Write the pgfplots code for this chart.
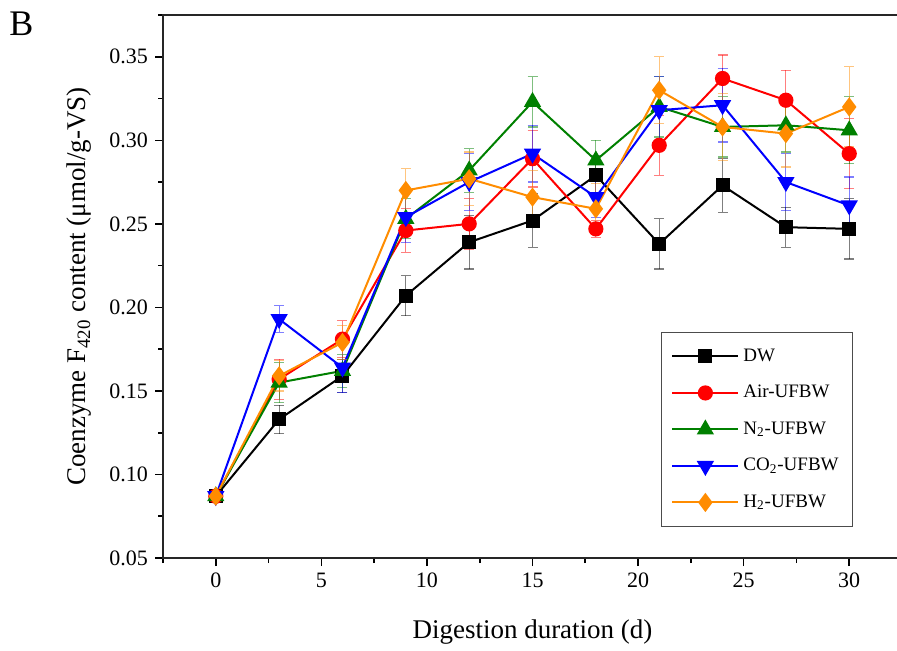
\documentclass[border=0pt]{standalone}
\usepackage{pgfplots}
\pgfplotsset{compat=1.18}
\usepackage{pgfplotstable}
\usepackage{fontspec}
\setmainfont{Liberation Serif}
\definecolor{cdw}{RGB}{0,0,0}
\definecolor{cair}{RGB}{255,0,0}
\definecolor{cn}{RGB}{0,128,0}
\definecolor{cco}{RGB}{0,0,255}
\definecolor{ch}{RGB}{255,140,0}

\pgfplotstableread{
x y e
0 0.087 0.003
3 0.133 0.0085
6 0.159 0.010
9 0.207 0.012
12 0.239 0.016
15 0.252 0.016
18 0.279 0.012
21 0.238 0.015
24 0.273 0.016
27 0.248 0.012
30 0.247 0.018
}\tdw
\pgfplotstableread{
x y e
0 0.087 0.003
3 0.157 0.012
6 0.181 0.011
9 0.246 0.013
12 0.250 0.015
15 0.289 0.017
18 0.247 0.005
21 0.297 0.018
24 0.337 0.014
27 0.324 0.018
30 0.292 0.021
}\tair
\pgfplotstableread{
x y e
0 0.087 0.003
3 0.155 0.012
6 0.162 0.010
9 0.253 0.012
12 0.282 0.013
15 0.323 0.015
18 0.288 0.012
21 0.320 0.018
24 0.308 0.018
27 0.309 0.016
30 0.306 0.020
}\tn
\pgfplotstableread{
x y e
0 0.087 0.003
3 0.193 0.008
6 0.164 0.015
9 0.254 0.015
12 0.275 0.017
15 0.292 0.017
18 0.266 0.012
21 0.318 0.020
24 0.321 0.022
27 0.275 0.017
30 0.261 0.017
}\tco
\pgfplotstableread{
x y e
0 0.087 0.003
3 0.159 0.009
6 0.179 0.010
9 0.270 0.013
12 0.277 0.016
15 0.266 0.016
18 0.259 0.015
21 0.330 0.020
24 0.308 0.020
27 0.304 0.020
30 0.320 0.024
}\th

\begin{document}
\begin{tikzpicture}
\begin{axis}[
  at={(81.5pt,46pt)}, anchor=south west,
  scale only axis, width=369.5pt, height=271.5pt,
  xmin=-2.5, xmax=32.5, ymin=0.05, ymax=0.375,
  xtick={0,5,...,30},
  minor xtick={-2.5,2.5,7.5,12.5,17.5,22.5,27.5},
  ytick={0.05,0.10,...,0.36},
  minor ytick={0.075,0.125,...,0.376},
  tick align=outside, xtick pos=bottom, ytick pos=left,
  major tick length=4pt, minor tick length=2.5pt,
  tick style={line width=0.8pt, black},
  axis line style={line width=1pt, black!85},
  /pgf/number format/assume math mode=true,
  yticklabel style={/pgf/number format/fixed, /pgf/number format/fixed zerofill, /pgf/number format/precision=2},
  ticklabel style={font=\fontsize{11}{13}\selectfont},
  scaled y ticks=false,
  xlabel={Digestion duration (d)},
  ylabel={Coenzyme F\textsubscript{420} content (μmol/g-VS)},
  label style={font=\fontsize{13.5}{15}\selectfont},
  xlabel style={yshift=-9pt},
  ylabel style={yshift=2pt},
  every axis plot/.append style={line width=1pt},
  error bars/y dir=both, error bars/y explicit,
  error bars/error bar style={line width=0.6pt, opacity=0.5},
  error bars/error mark options={rotate=90, mark size=2.5pt, line width=0.6pt, opacity=0.5},
  legend cell align=left,
  legend style={at={(0.934,0.416)}, anchor=north east, draw=black!70, line width=0.6pt,
    font=\fontsize{9.5}{11}\selectfont, row sep=6.5pt, inner xsep=5pt, inner ysep=6pt},
  legend image code/.code={\draw[mark repeat=2,mark phase=2] plot coordinates {(0pt,0pt) (16.5pt,0pt) (33pt,0pt)};},
]
\addplot[cdw, mark=square*, mark size=3pt, mark options={solid}] table[x=x,y=y,y error=e]{\tdw};
\addlegendentry{DW}
\addplot[cair, mark=*, mark size=3.3pt, mark options={solid}] table[x=x,y=y,y error=e]{\tair};
\addlegendentry{Air-UFBW}
\addplot[cn, mark=triangle*, mark size=4pt, mark options={solid}] table[x=x,y=y,y error=e]{\tn};
\addlegendentry{N\textsubscript{2}-UFBW}
\addplot[cco, mark=triangle*, mark size=4pt, mark options={solid, rotate=180}] table[x=x,y=y,y error=e]{\tco};
\addlegendentry{CO\textsubscript{2}-UFBW}
\addplot[ch, mark=diamond*, mark size=4pt, mark options={solid}] table[x=x,y=y,y error=e]{\th};
\addlegendentry{H\textsubscript{2}-UFBW}
\end{axis}
\node[anchor=north west, inner sep=0pt, font=\fontsize{18}{20}\selectfont] at (4.5pt,319pt) {B};
\pgfresetboundingbox
\useasboundingbox (0,0) rectangle (448.5pt,325pt);
\end{tikzpicture}
\end{document}
